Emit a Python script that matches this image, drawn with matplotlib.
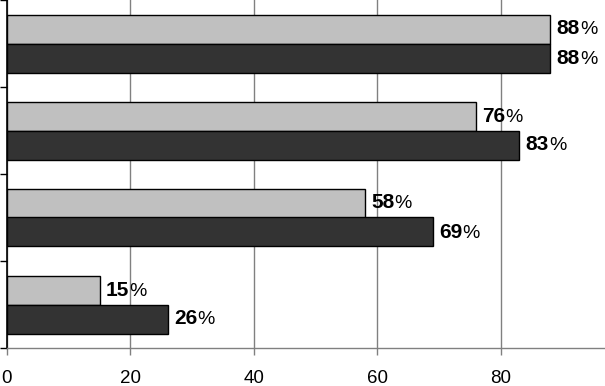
import matplotlib
matplotlib.use("Agg")
import matplotlib.pyplot as plt
import numpy as np

groups = ["G1", "G2", "G3", "G4"]
series_light = [88, 76, 58, 15]
series_dark = [88, 83, 69, 26]
x_ticks = [0, 20, 40, 60, 80]

plt.rcParams['font.family'] = ['Liberation Sans', 'DejaVu Sans']

fig = plt.figure(figsize=(6.05, 3.86), dpi=100)
ax = fig.add_axes([7/605, 38/386, 1 - 7/605, 1 - 38/386])

y = np.arange(len(groups))
h = 1/3
ax.barh(y - h/2, series_light, height=h, color='#c0c0c0', edgecolor='black', linewidth=1, zorder=3)
ax.barh(y + h/2, series_dark, height=h, color='#333333', edgecolor='black', linewidth=1, zorder=3)

for yy, v in zip(y - h/2, series_light):
    t = ax.annotate(f"{v}", xy=(v, yy), xytext=(4.5, 0), textcoords='offset points',
                    va='center', ha='left', fontsize=15, fontweight='bold', color='black')
    ax.annotate('%', xy=(1, 0), xycoords=t, va='bottom', ha='left', fontsize=14, color='black')
for yy, v in zip(y + h/2, series_dark):
    t = ax.annotate(f"{v}", xy=(v, yy), xytext=(4.5, 0), textcoords='offset points',
                    va='center', ha='left', fontsize=15, fontweight='bold', color='black')
    ax.annotate('%', xy=(1, 0), xycoords=t, va='bottom', ha='left', fontsize=14, color='black')

ax.set_xlim(0, 96.85)
ax.set_ylim(len(groups) - 0.5, -0.5)
ax.set_xticks(x_ticks)
ax.set_xticklabels([str(v) for v in x_ticks], fontsize=13.5)
ax.set_yticks(np.arange(len(groups) + 1) - 0.5)
ax.set_yticklabels([])
ax.tick_params(axis='y', direction='out', length=5, width=1, color='black')
ax.tick_params(axis='x', direction='out', length=5, width=1, color='#808080', pad=11)
ax.xaxis.grid(True, color='#808080', linewidth=1, zorder=0)
ax.set_axisbelow(True)
for s in ['top', 'right']:
    ax.spines[s].set_visible(False)
ax.spines['left'].set_color('black')
ax.spines['left'].set_linewidth(1.2)
ax.spines['bottom'].set_color('#808080')
ax.spines['bottom'].set_linewidth(1)

fig.savefig('out.png', dpi=100)
